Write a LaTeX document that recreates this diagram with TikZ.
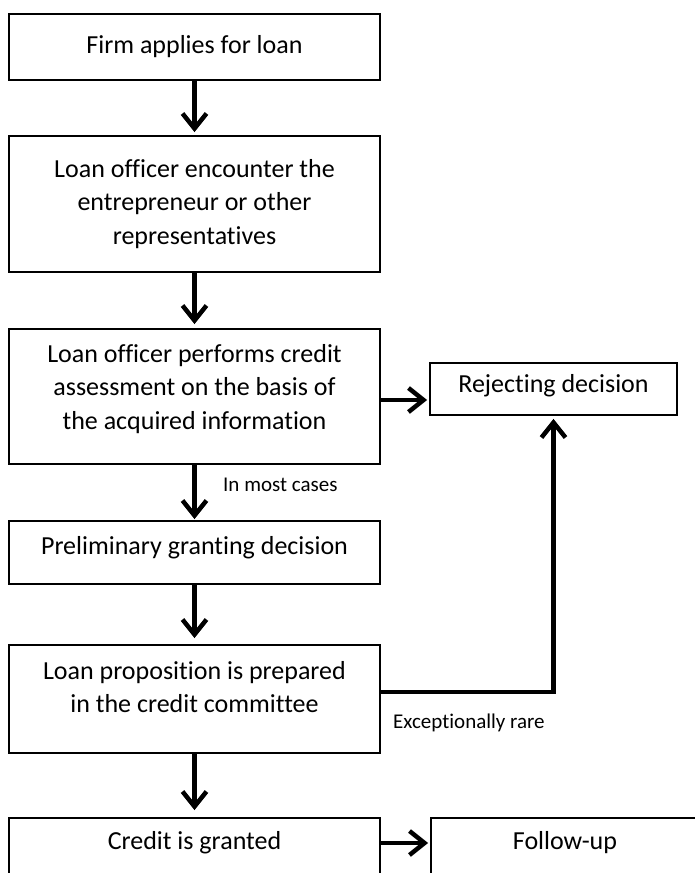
\documentclass[tikz,border=0pt]{standalone}
\usepackage{fontspec}
\setmainfont{Carlito}[Ligatures={NoCommon}]
\usetikzlibrary{arrows.meta}
\begin{document}
\begin{tikzpicture}[x=1pt,y=-1pt,
  box/.style={draw=black,line width=1.8pt,rectangle,inner sep=0pt,fill=white},
  txt/.style={font=\fontsize{26}{33.5}\selectfont,align=center,inner sep=0pt},
  small/.style={font=\fontsize{21}{25}\selectfont,inner sep=0pt,anchor=west},
  arr/.style={line width=4.5pt,-{Straight Barb[length=15pt,width=24pt]}}]
\useasboundingbox (0,0) rectangle (695,873);
\clip (0,0) rectangle (695,873);
% boxes
\node[box,minimum width=371pt,minimum height=66pt]  (b1) at (194.5,47) {};
\node[box,minimum width=371pt,minimum height=136pt] (b2) at (194.5,204) {};
\node[box,minimum width=371pt,minimum height=135pt] (b3) at (194.5,396.5) {};
\node[box,minimum width=371pt,minimum height=63pt]  (b4) at (194.5,552.5) {};
\node[box,minimum width=371pt,minimum height=108pt] (b5) at (194.5,699) {};
\node[box,minimum width=371pt,minimum height=80pt]  (b6) at (194.5,858) {};
\node[box,minimum width=247pt,minimum height=52pt]  (rej) at (553.5,389) {};
\node[box,minimum width=270pt,minimum height=80pt]  (fu) at (566,858) {};
% texts
\node[txt] (t1) at (194.5,47) {Firm applies for loan};
\node[txt] (t2) at (194.5,204) {Loan officer encounter the\\entrepreneur or other\\representatives};
\node[txt] (t3) at (194.5,389) {Loan officer performs credit\\assessment on the basis of\\the acquired information};
\node[txt] (t4) at (194.5,548) {Preliminary granting decision};
\node[txt] (t5) at (194.5,687) {Loan proposition is prepared\\in the credit committee};
\node[txt] (t6) at (194.5,843) {Credit is granted};
\node[txt] (trej) at (553.5,386) {Rejecting decision};
\node[txt] (tfu) at (565,843) {Follow-up};
% labels
\node[small] (l1) at (223,485) {In most cases};
\node[small] (l2) at (393,723) {Exceptionally rare};
% connectors
\draw[arr,shorten >=3pt] (b1.south) -- (b2.north);
\draw[arr,shorten >=4pt] (b2.south) -- (b3.north);
\draw[arr,shorten >=1pt] (b3.south) -- (b4.north);
\draw[arr,shorten >=6pt] (b4.south) -- (b5.north);
\draw[arr,shorten >=7pt] (b5.south) -- (b6.north);
\draw[arr,shorten >=2pt] ([yshift=-3.5pt]b3.east) -- ([yshift=-3.5pt]b3.east -| rej.west);
\draw[arr,shorten >=3pt] (b5.east |- t5) ++(0,5) -| (rej.south);
\draw[arr,shorten >=2pt] (b6.east |- tfu) -- (fu.west |- tfu);
\end{tikzpicture}
\end{document}
